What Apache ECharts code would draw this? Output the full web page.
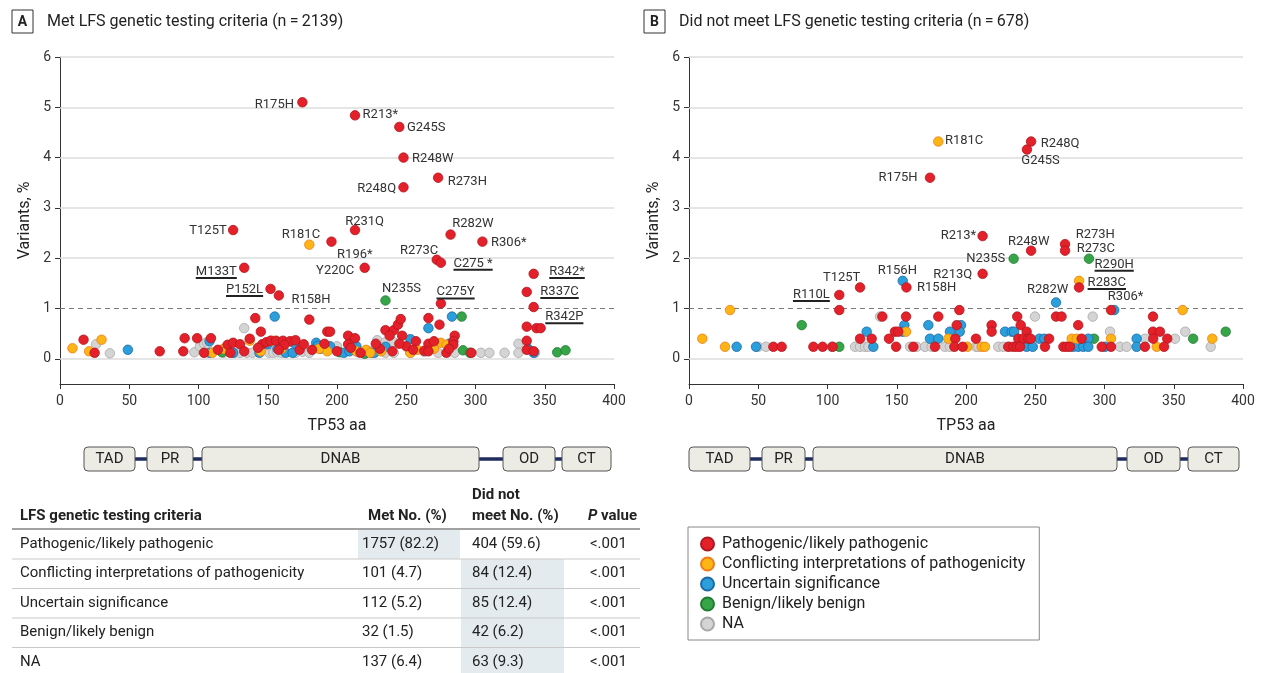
<!DOCTYPE html>
<html><head><meta charset="utf-8">
<script src="https://cdn.jsdelivr.net/npm/echarts@6/dist/echarts.min.js"></script>
<style>html,body{margin:0;padding:0;background:#fff}#c{width:1262px;height:673px}</style>
</head><body><div id="c"></div>
<script>
const FONT = 'Roboto, "Liberation Sans", sans-serif';

// ---------- data ----------
const categories = ['Pathogenic/likely pathogenic','Conflicting interpretations of pathogenicity','Uncertain significance','Benign/likely benign','NA'];
const panelTitles = ['Met LFS genetic testing criteria (n\u2009=\u20092139)', 'Did not meet LFS genetic testing criteria (n\u2009=\u2009678)'];
const panelLetters = ['A','B'];
const xTicks = [0,50,100,150,200,250,300,350,400];
const yTicks = [0,1,2,3,4,5,6];
const domainNames = ['TAD','PR','DNAB','OD','CT'];

// Panel A: [TP53 aa, variants %, label]
const aPathogenic = [[175,5.1,'R175H'],[213,4.84,'R213*'],[245,4.61,'G245S'],[248,4.0,'R248W'],[248,3.41,'R248Q'],[273,3.6,'R273H'],[125,2.56,'T125T'],[213,2.56,'R231Q'],[196,2.33,'R196*'],[282,2.47,'R282W'],[305,2.33,'R306*'],[272,1.97,'R273C'],[275,1.91,'C275 *'],[133,1.81,'M133T'],[220,1.81,'Y220C'],[152,1.39,'P152L'],[158,1.26,'R158H'],[275,1.1,'C275Y'],[342,1.69,'R342*'],[337,1.33,'R337C'],[342,1.03,'R342P'],
[17,0.38],[25,0.12],[72,0.15],[89,0.15],[90,0.41],[99,0.41],[109,0.41],[104,0.12],[121,0.28],[125,0.32],[130,0.29],[123,0.12],[137,0.4],[141,0.81],[145,0.54],[146,0.29],[149,0.33],[152,0.36],[156,0.36],[161,0.36],[166,0.35],[170,0.37],[162,0.28],[180,0.78],[173,0.18],[193,0.54],[195,0.54],[208,0.46],[213,0.41],[208,0.29],[217,0.12],[235,0.57],[241,0.57],[244,0.68],[246,0.79],[238,0.46],[247,0.46],[257,0.35],[266,0.81],[266,0.3],[274,0.68],[285,0.46],[284,0.35],[284,0.28],[337,0.64],[344,0.61],[347,0.61],[337,0.36],[337,0.18],[231,0.2],[240,0.15],[263,0.16],[266,0.15],[279,0.12],[297,0.12],[182,0.18],[200,0.15],[210,0.22],[250,0.25],[255,0.18],[176,0.29],[158,0.18],[143,0.22],[133,0.15],[114,0.18],[191,0.3],[228,0.3],[281,0.2],[342,0.15],[245,0.3],[270,0.35]];
const aConflicting = [[180,2.27,'R181C'],[9,0.21],[30,0.38],[21,0.15],[110,0.12],[137,0.36],[153,0.36],[193,0.15],[214,0.15],[221,0.18],[224,0.12],[253,0.12],[275,0.32],[279,0.28],[145,0.15],[160,0.2],[187,0.2],[118,0.2],[270,0.2],[258,0.18],[232,0.15]];
const aUncertain = [[49,0.18],[108,0.35],[108,0.12],[125,0.12],[144,0.12],[150,0.29],[155,0.84],[163,0.12],[168,0.12],[170,0.29],[185,0.32],[186,0.26],[188,0.2],[190,0.24],[205,0.12],[209,0.15],[235,0.24],[253,0.39],[266,0.61],[281,0.3],[283,0.84],[338,0.2],[342,0.12],[222,0.14],[227,0.12],[195,0.25],[157,0.2],[214,0.25]];
const aBenign = [[235,1.16,'N235S'],[117,0.13],[220,0.1],[225,0.12],[290,0.84],[291,0.17],[296,0.12],[359,0.13],[365,0.17],[202,0.13]];
const aNA = [[26,0.29],[36,0.11],[97,0.13],[101,0.25],[104,0.3],[106,0.33],[107,0.18],[118,0.12],[126,0.12],[130,0.12],[133,0.61],[135,0.12],[139,0.12],[151,0.12],[154,0.12],[157,0.13],[160,0.12],[167,0.34],[170,0.12],[175,0.14],[223,0.15],[225,0.14],[229,0.37],[235,0.33],[241,0.33],[229,0.27],[235,0.12],[241,0.12],[253,0.12],[273,0.12],[285,0.12],[304,0.12],[310,0.12],[321,0.12],[331,0.3],[331,0.12],[343,0.12],[180,0.12],[200,0.25],[215,0.13],[263,0.14]];

// Panel B
const bPathogenic = [[247,4.32,'R248Q'],[244,4.16,'G245S'],[174,3.6,'R175H'],[212,2.44,'R213*'],[247,2.15,'R248W'],[271.5,2.28,'R273H'],[271.5,2.15,'R273C'],[212,1.69,'R213Q'],[157,1.42,'R158H'],[123.5,1.42,'T125T'],[108.5,1.27,'R110L'],[304.7,0.97,'R306*'],
[281.6,1.42],[108.5,0.97],[195.2,0.97],[139.6,0.84],[156.7,0.84],[180,0.84],[237,0.84],[265,0.84],[269,0.84],[335,0.84],[193.3,0.67],[218.5,0.67],[239.5,0.67],[281,0.67],[148.7,0.54],[151.1,0.54],[218.5,0.54],[243.8,0.54],[335,0.54],[340,0.54],[123.5,0.4],[131.9,0.4],[144.4,0.4],[192.3,0.4],[207.2,0.4],[237.8,0.4],[241.4,0.4],[245,0.4],[246.7,0.4],[260,0.4],[283.5,0.4],[335.2,0.4],[345.3,0.4],[60.9,0.24],[66.9,0.24],[89.8,0.24],[96.5,0.24],[103.7,0.24],[149.5,0.24],[162,0.24],[177.6,0.24],[191.6,0.24],[197.6,0.24],[230.5,0.24],[234.2,0.24],[236.6,0.24],[239,0.24],[257,0.24],[270.3,0.24],[272.7,0.24],[275,0.24],[298,0.24],[304.7,0.24],[329.2,0.24],[343,0.24]];
const bConflicting = [[180,4.32,'R181C'],[281.6,1.55,'R283C'],[29.6,0.97],[356.4,0.97],[156.7,0.54],[9.6,0.4],[187.2,0.4],[276.3,0.4],[280,0.4],[304.7,0.4],[377.8,0.4],[26,0.24],[201,0.24],[211.3,0.24],[213.7,0.24],[337.7,0.24]];
const bUncertain = [[154.3,1.55,'R156H'],[265,1.12,'R282W'],[307,0.97],[155.5,0.67],[172.8,0.67],[196.4,0.67],[128.3,0.54],[154.3,0.54],[188.4,0.54],[195.5,0.54],[228.2,0.54],[233,0.54],[234.7,0.54],[174,0.4],[180,0.4],[253,0.4],[256.5,0.4],[288.3,0.4],[323.2,0.4],[34.4,0.24],[48.4,0.24],[133.1,0.24],[243.8,0.24],[248.2,0.24],[277.5,0.24],[281,0.24],[284.7,0.24],[288.3,0.24],[300.4,0.24],[323.2,0.24]];
const bBenign = [[234.4,1.99,'N235S'],[288.8,1.99,'R290H'],[81.4,0.67],[387.5,0.54],[292.4,0.4],[364,0.4],[108.5,0.24]];
const bNA = [[137.9,0.84],[249.8,0.84],[291.5,0.84],[304,0.54],[358.3,0.54],[329.2,0.4],[350.9,0.4],[50,0.24],[55.6,0.24],[103,0.24],[119.9,0.24],[123.5,0.24],[127.1,0.24],[129.5,0.24],[159.6,0.24],[164.4,0.24],[170.4,0.24],[175.2,0.24],[184.8,0.24],[188.4,0.24],[207.2,0.24],[208.9,0.24],[223.3,0.24],[227,0.24],[231.8,0.24],[311.2,0.24],[316,0.24],[376.7,0.24]];

// Table
const tableHeader = ['LFS genetic testing criteria','Met No. (%)','Did not','meet No. (%)','P value'];
const tableRows = ['Pathogenic/likely pathogenic','Conflicting interpretations of pathogenicity','Uncertain significance','Benign/likely benign','NA'];
const metCounts = ['1757 (82.2)','101 (4.7)','112 (5.2)','32 (1.5)','137 (6.4)'];
const notMetCounts = ['404 (59.6)','84 (12.4)','85 (12.4)','42 (6.2)','63 (9.3)'];
const pValues = ['<.001','<.001','<.001','<.001','<.001'];

// ---------- layout / style ----------
const colors = ['#e4202a','#fdb515','#2b9fdc','#36a548','#d4d4d4'];
const borders = ['#b3161d','#ee7c1a','#1b6aa5','#237a33','#a8a8a8'];
const labelLayout = [
  { 'R175H':[-8,3,'right'], 'R213*':[8,0,'left'], 'G245S':[8,1,'left'], 'R248W':[9,2,'left'], 'R248Q':[-7,2,'right'],
    'R273H':[10,4,'left'], 'T125T':[-6,1,'right'], 'R181C':[-8,-9,'center'], 'R231Q':[10,-8,'center'], 'R196*':[6,14,'left'],
    'Y220C':[-10,3,'right'], 'R282W':[2,-10,'left'], 'R306*':[9,2,'left'], 'R273C':[2,-9,'right'], 'C275 *':[13,1,'left'],
    'M133T':[-7,4,'right'], 'P152L':[-7,1,'right'], 'R158H':[13,5,'left'], 'N235S':[-3,-11,'left'], 'C275Y':[-4,-11,'left'],
    'R342*':[16,-2,'left'], 'R337C':[14,0,'left'], 'R342P':[12,10,'left'] },
  { 'R181C':[7,0,'left'], 'R248Q':[10,3,'left'], 'G245S':[14,12,'center'], 'R175H':[-12,0,'right'], 'R213*':[-6,0,'right'],
    'R248W':[-2,-9,'center'], 'R273H':[11,-9,'left'], 'R273C':[12,-2,'left'], 'N235S':[-8,0,'right'], 'R290H':[6,6,'left'],
    'R213Q':[-10,1,'right'], 'R156H':[-5,-10,'center'], 'R158H':[11,1,'left'], 'T125T':[-18,-9,'center'], 'R110L':[-9,0,'right'],
    'R283C':[9,2,'left'], 'R282W':[-8,-12,'center'], 'R306*':[15,-13,'center'] }
];
const underlined = [['M133T','P152L','C275 *','C275Y','R342*','R337C','R342P'], ['R110L','R290H','R283C']];
const gridLefts = [60, 689];
const SYM = 9.5;

const panels = [[aPathogenic,aConflicting,aUncertain,aBenign,aNA],[bPathogenic,bConflicting,bUncertain,bBenign,bNA]];

function makeSeries(points, ci, gi) {
  const lay = labelLayout[gi], ul = underlined[gi];
  const data = points.map(p => {
    const item = { value: [p[0], p[1]] };
    if (p[2]) {
      const L = lay[p[2]] || [8,0,'left'];
      const isU = ul.indexOf(p[2]) >= 0;
      item.name = p[2];
      item.label = {
        show: true,
        position: [SYM / 2 + L[0], SYM / 2 + L[1] + (isU ? 1 : 0)],
        align: L[2], verticalAlign: 'middle',
        formatter: isU ? ('{t|' + p[2] + '}\n{u|}') : p[2],
        color: '#333', fontSize: 13, fontFamily: FONT,
        rich: isU ? { t: { fontSize: 13, lineHeight: 11, color: '#333', fontFamily: FONT },
                      u: { width: '100%', height: 2, backgroundColor: '#222' } } : undefined
      };
    }
    return item;
  });
  const s = {
    type: 'scatter', name: categories[ci], xAxisIndex: gi, yAxisIndex: gi,
    symbol: 'circle', symbolSize: SYM, z: 3,
    itemStyle: { color: colors[ci], borderColor: borders[ci], borderWidth: 0.8, opacity: 1 },
    emphasis: { disabled: true }, silent: true,
    data
  };
  if (ci === 0) {
    s.markLine = {
      silent: true, symbol: 'none', z: 1, animation: false,
      label: { show: false },
      data: yTicks.map(v => ({ yAxis: v, lineStyle: v === 1 ? { color: '#7a7a7a', type: [5,4], width: 1.2 } : { color: '#dcdcdc', type: 'solid', width: 1.6 } }))
    };
  }
  return s;
}

const series = [];
panels.forEach((cats, gi) => {
  [4,3,2,1,0].forEach(ci => series.push(makeSeries(cats[ci], ci, gi)));
});

const grid = gridLefts.map(l => ({ left: l, top: 57, width: 554, height: 327, containLabel: false, outerBoundsMode: 'none' }));
const axisText = { color: '#333', fontSize: 14, fontFamily: FONT };
const xAxis = gridLefts.map((l, i) => ({
  type: 'value', gridIndex: i, min: 0, max: 400, interval: 50, position: 'bottom',
  axisLine: { show: true, onZero: false, lineStyle: { color: '#333', width: 1 } },
  axisTick: { show: true, length: 5, lineStyle: { color: '#333' } },
  axisLabel: Object.assign({ margin: 10, formatter: v => xTicks.indexOf(v) >= 0 ? String(v) : '' }, axisText),
  splitLine: { show: false },
  name: 'TP53 aa', nameLocation: 'middle', nameGap: 34,
  nameTextStyle: { color: '#222', fontSize: 16, fontFamily: FONT }
}));
const yAxis = gridLefts.map((l, i) => ({
  type: 'value', gridIndex: i, min: -0.5, max: 6,
  axisLine: { show: true, lineStyle: { color: '#333', width: 1 } },
  axisTick: { show: true, length: 5, customValues: yTicks, lineStyle: { color: '#333' } },
  axisLabel: Object.assign({ margin: 9, customValues: yTicks }, axisText),
  splitLine: { show: false },
  name: 'Variants, %', nameLocation: 'middle', nameGap: 27,
  nameTextStyle: { color: '#222', fontSize: 16, fontFamily: FONT }
}));

// ---------- graphics: titles, domains, table ----------
const G = [];
function text(x, y, t, o) {
  G.push({ type: 'text', x, y, z: 5, silent: true,
    style: Object.assign({ text: t, fill: '#222', fontSize: 15, fontFamily: FONT, align: 'left', verticalAlign: 'middle' }, o || {}) });
}
[12, 644].forEach((bx, i) => {
  G.push({ type: 'rect', shape: { x: bx, y: 10, width: 21, height: 23 }, style: { fill: 'none', stroke: '#333', lineWidth: 1 }, silent: true });
  text(bx + 10.5, 22, panelLetters[i], { align: 'center', fontWeight: 'bold', fontSize: 14 });
  text(bx + 35, 22, panelTitles[i], { fontSize: 16 });
});
const domainBoxes = [
  [[84,135],[147,193],[202,479],[503,555],[562,611]],
  [[689,750],[762,805],[813,1117],[1127,1180],[1188,1239]]
];
domainBoxes.forEach(boxes => {
  G.push({ type: 'line', shape: { x1: boxes[0][1] - 5, y1: 459, x2: boxes[4][0] + 5, y2: 459 }, style: { stroke: '#1f2c5e', lineWidth: 3.5 }, silent: true, z: 1 });
  boxes.forEach((b, k) => {
    G.push({ type: 'rect', shape: { x: b[0], y: 447, width: b[1] - b[0], height: 24, r: 4 }, style: { fill: '#ecebe4', stroke: '#555', lineWidth: 1 }, silent: true, z: 2 });
    text((b[0] + b[1]) / 2, 459.5, domainNames[k], { align: 'center', fontSize: 15 });
  });
});
// table
const colX = [20, 362, 472, 590];
G.push({ type: 'rect', shape: { x: 358, y: 530, width: 102, height: 29 }, style: { fill: '#e3ebee' }, silent: true, z: 0 });
G.push({ type: 'rect', shape: { x: 461, y: 559, width: 103, height: 114 }, style: { fill: '#e3ebee' }, silent: true, z: 0 });
text(colX[0], 516, tableHeader[0], { fontWeight: 'bold' });
text(368, 516, tableHeader[1], { fontWeight: 'bold' });
text(colX[2], 495, tableHeader[2], { fontWeight: 'bold' });
text(colX[2], 516, tableHeader[3], { fontWeight: 'bold' });
text(588, 516, '{i|P} value', { fontWeight: 'bold', rich: { i: { fontStyle: 'italic', fontWeight: 'bold', fontSize: 15, fontFamily: FONT, fill: '#222' } } });
G.push({ type: 'line', shape: { x1: 12, y1: 529, x2: 640, y2: 529 }, style: { stroke: '#444', lineWidth: 1.2 }, silent: true, z: 3 });
tableRows.forEach((r, i) => {
  const y = 544 + i * 29.5;
  text(colX[0], y, r);
  text(colX[1], y, metCounts[i]);
  text(colX[2], y, notMetCounts[i]);
  text(colX[3], y, pValues[i]);
  if (i < tableRows.length - 1) {
    G.push({ type: 'line', shape: { x1: 12, y1: y + 15, x2: 640, y2: y + 15 }, style: { stroke: '#c9c9c9', lineWidth: 1 }, silent: true, z: 3 });
  }
});

const option = {
  animation: false,
  backgroundColor: '#fff',
  textStyle: { fontFamily: FONT },
  grid, xAxis, yAxis, series,
  legend: {
    data: categories, orient: 'vertical', left: 688, top: 527,
    itemWidth: 13, itemHeight: 13, itemGap: 4, icon: 'circle',
    borderColor: '#888', borderWidth: 1, padding: [9, 14, 8, 12],
    textStyle: { color: '#222', fontSize: 16, lineHeight: 14, fontFamily: FONT, padding: [0, 0, 0, 3] },
    selectedMode: false
  },
  graphic: G
};
const chart = echarts.init(document.getElementById('c'), null, { renderer: 'canvas' });
chart.setOption(option);
</script></body></html>
